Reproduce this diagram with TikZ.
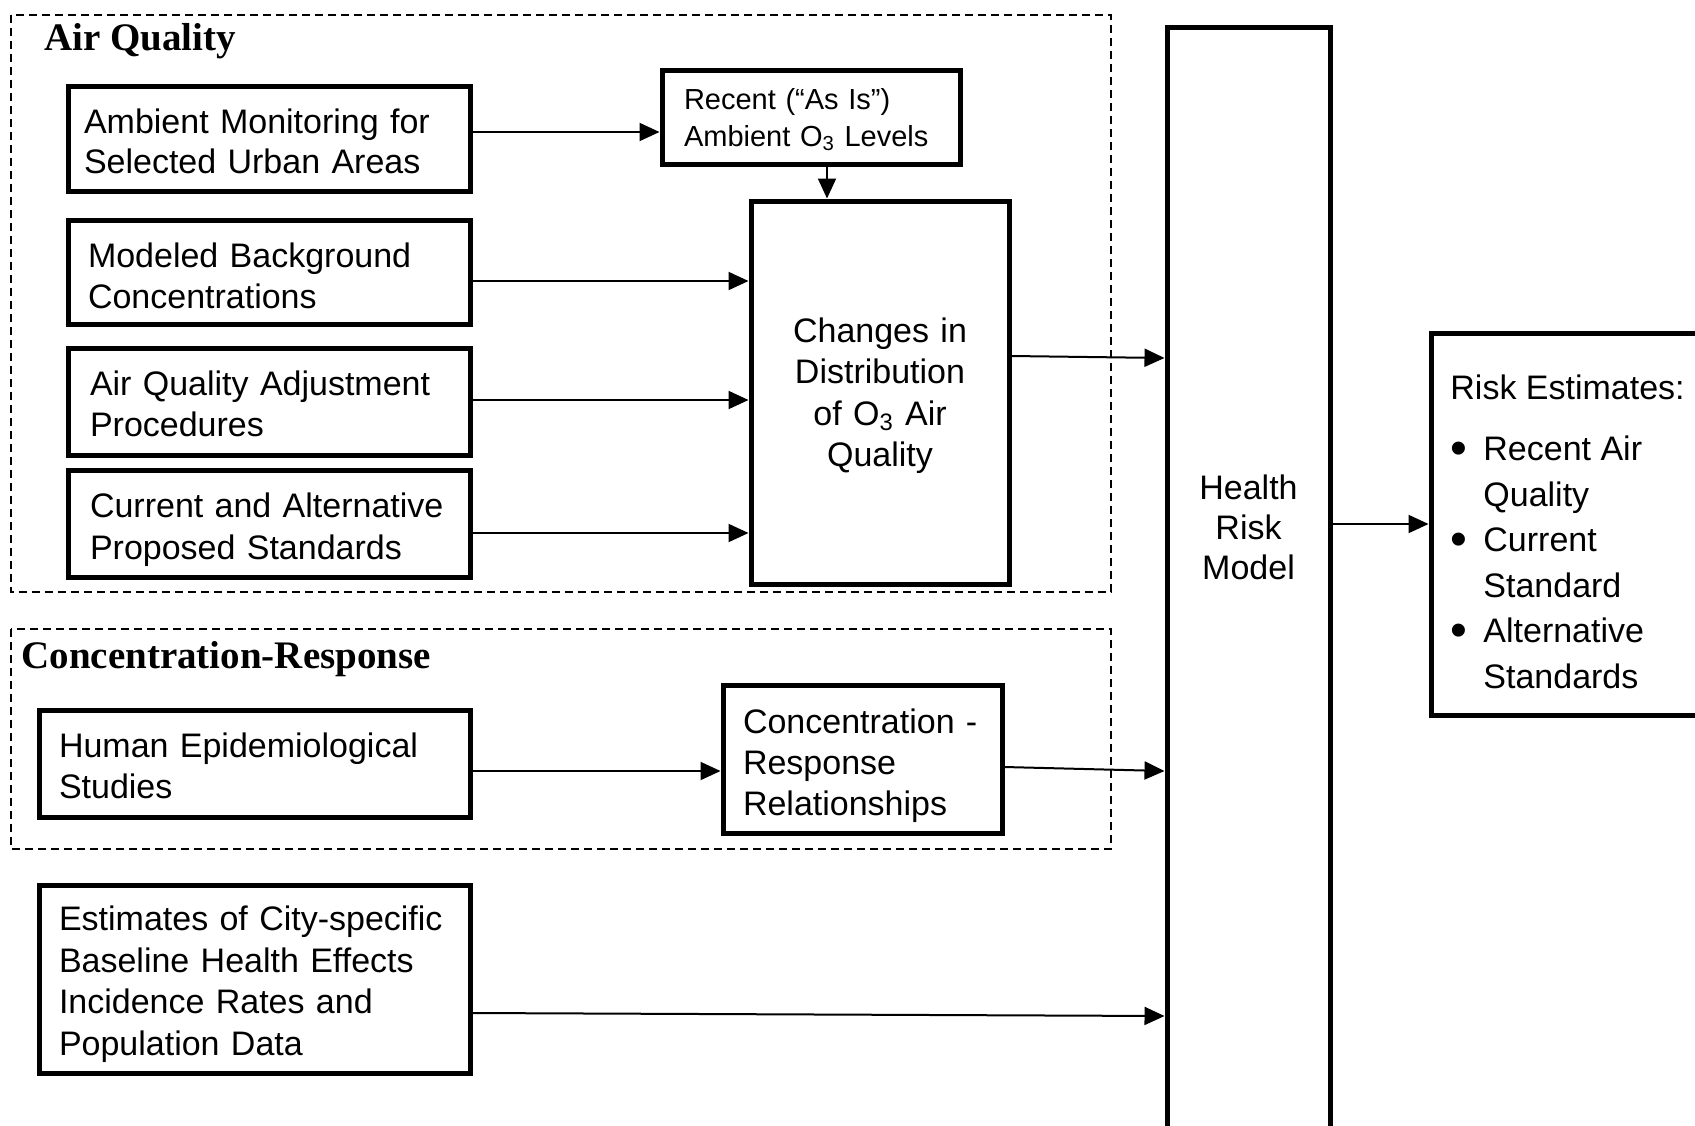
\documentclass[tikz,border=0pt]{standalone}
\usepackage{fontspec}
\setmainfont{Liberation Sans}
\newfontfamily\tfont{Liberation Serif}
\usetikzlibrary{arrows.meta,calc}
\newcommand{\bul}{\makebox[16.5pt][l]{\raisebox{-1.9pt}{\fontsize{24}{24}\selectfont•}}}
\begin{document}
\begin{tikzpicture}[x=0.5pt,y=-0.5pt,
  box/.style={draw, line width=2.5pt, inner ysep=0pt},
  lbox/.style={box, font=\fontsize{17}{20.5}\selectfont, align=left, text height=12.4pt},
  dbox/.style={draw, line width=0.8pt, dash pattern=on 4pt off 2.5pt},
  arr/.style={-{Triangle[length=10pt,width=9pt]}, line width=1pt},
  ttl/.style={font=\fontsize{19.5}{23}\selectfont\tfont\bfseries, inner sep=0pt, anchor=base west}]
\useasboundingbox (0,0) rectangle (1695,1125);
\clip (0,0) rectangle (1695,1125);
\fill[white] (0,0) rectangle (1695,1125);

\draw[dbox] (11,15) rectangle (1111,592);
\draw[dbox] (11,629) rectangle (1111,849);
\node[ttl] (t1) at (44,50) {Air Quality};
\node[ttl] (t2) at (21,668) {Concentration-Response};

\node[lbox, minimum height=52.5pt, inner xsep=8pt, text width=185pt, text depth=17.3pt, font=\fontsize{17}{20}\selectfont] (amb) at (269,138.5) {Ambient Monitoring for\\Selected Urban Areas};
\node[lbox, minimum height=52pt, inner xsep=10pt, text width=181pt, text depth=16.7pt] (mod) at (269,272) {Modeled Background\\Concentrations};
\node[lbox, minimum height=53.5pt, inner xsep=11pt, text width=179pt, text depth=18.7pt] (adj) at (269,401.5) {Air Quality Adjustment\\Procedures};
\node[lbox, minimum height=53.5pt, inner xsep=11pt, text width=179pt, text depth=18.5pt, font=\fontsize{17}{21}\selectfont] (cur) at (269,523.5) {Current and Alternative\\Proposed Standards};
\node[lbox, font=\fontsize{14.5}{18.5}\selectfont, minimum height=47pt, inner xsep=11pt, text width=127pt, text height=10.6pt, text depth=18.5pt] (rec) at (811,117) {Recent (“As Is”)\\Ambient O\textsubscript{3} Levels};
\node[box, font=\fontsize{17}{20.7}\selectfont, align=center, minimum height=191.5pt, inner xsep=10pt, text width=109pt, text height=12.4pt, text depth=62.7pt] (chg) at (880,392.5) {Changes in\\Distribution\\of O\textsubscript{3} Air\\Quality};
\node[lbox, minimum height=53.5pt, inner xsep=10pt, text width=195.5pt, text depth=18.5pt] (hum) at (254.5,763.5) {Human Epidemiological\\Studies};
\node[lbox, minimum height=74pt, inner xsep=10pt, text width=119.5pt, text depth=37.8pt] (crr) at (862.5,759) {Concentration~-\\Response\\Relationships};
\node[lbox, minimum height=94pt, inner xsep=10pt, text width=195.5pt, text depth=61.1pt, font=\fontsize{17}{20.9}\selectfont] (est) at (254.5,979) {Estimates of City-specific\\Baseline Health Effects\\Incidence Rates and\\Population Data};
\node[box, minimum width=81.5pt, minimum height=556.5pt] (hrm) at (1248.5,583.5) {};
\node[font=\fontsize{17}{20}\selectfont, align=center, inner sep=0pt] (hrmt) at (1248.5,527) {Health\\Risk\\Model};
\node[box, minimum width=159.5pt, minimum height=191pt] (rsk) at (1590.5,524) {};
\node[font=\fontsize{17}{22.8}\selectfont, align=left, inner sep=0pt, anchor=west] (rskt) at (1450,532) {Risk Estimates:\\[7.5pt]
\bul Recent Air\\
\hspace*{16.5pt}Quality\\
\bul Current\\
\hspace*{16.5pt}Standard\\
\bul Alternative\\
\hspace*{16.5pt}Standards};

\coordinate (a1) at ($(amb.east)+(0,-6.5)$);
\draw[arr] (a1) -- (a1 -| rec.west);
\coordinate (a2) at ($(mod.east)+(0,9)$);
\draw[arr] (a2) -- (a2 -| chg.west);
\coordinate (a3) at ($(adj.east)+(0,-1.5)$);
\draw[arr] (a3) -- (a3 -| chg.west);
\coordinate (a4) at ($(cur.east)+(0,9.5)$);
\draw[arr] (a4) -- (a4 -| chg.west);
\coordinate (a5) at ($(rec.south)+(16,0)$);
\draw[arr] (a5) -- (a5 |- chg.north);
\coordinate (a6) at ($(chg.east)+(0,-36.5)$);
\coordinate (b6) at (a6 -| hrm.west);
\draw[arr] (a6) -- ($(b6)+(0,2)$);
\coordinate (a7) at ($(hum.east)+(0,7.5)$);
\draw[arr] (a7) -- (a7 -| crr.west);
\coordinate (a8) at ($(crr.east)+(0,8)$);
\coordinate (b8) at (a8 -| hrm.west);
\draw[arr] (a8) -- ($(b8)+(0,4)$);
\coordinate (a9) at ($(est.east)+(0,34)$);
\coordinate (b9) at (a9 -| hrm.west);
\draw[arr] (a9) -- ($(b9)+(0,3)$);
\draw[arr] (rsk.west -| hrm.east) -- (rsk.west);
\end{tikzpicture}
\end{document}
